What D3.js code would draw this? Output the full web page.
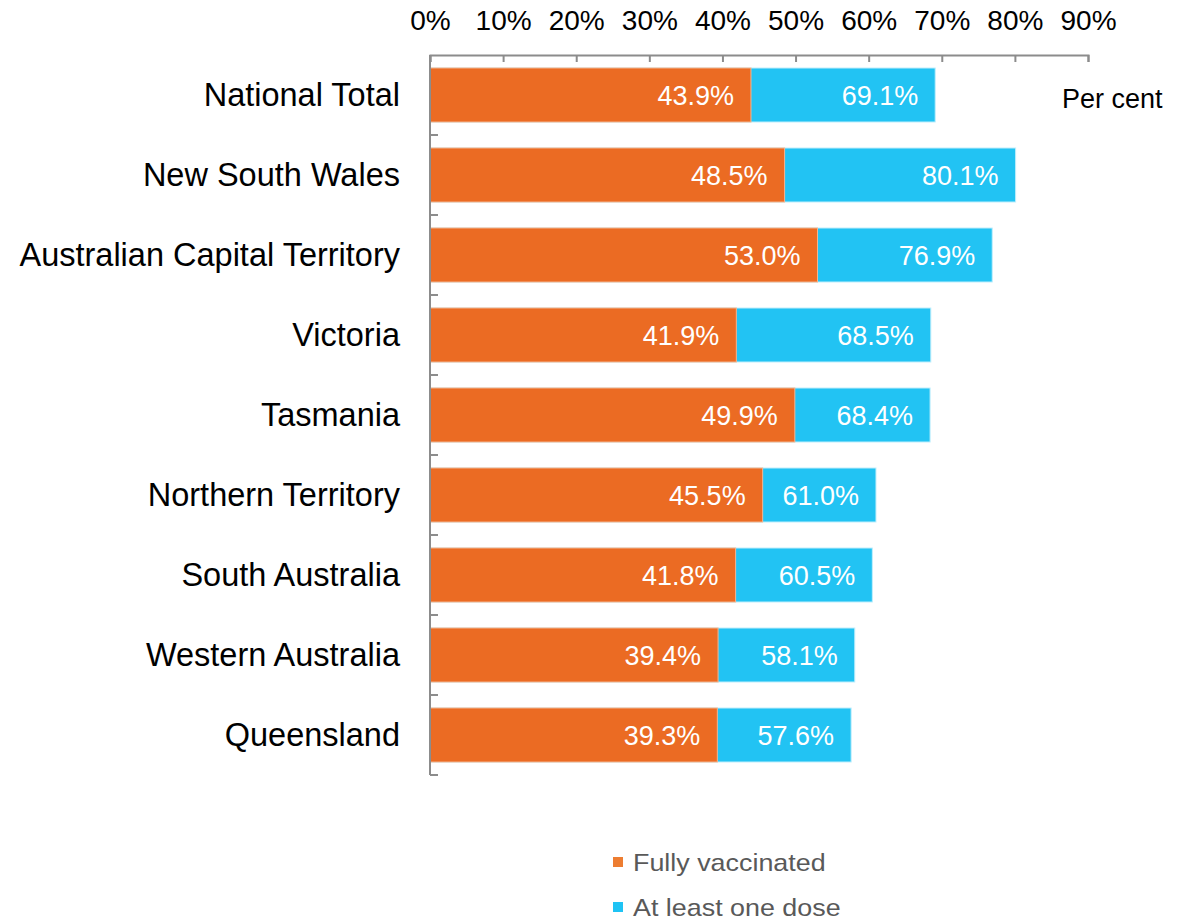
<!DOCTYPE html>
<html>
<head>
<meta charset="utf-8">
<script src="https://cdn.jsdelivr.net/npm/d3@7"></script>
<style>
  body { margin: 0; background: #fff; }
  text { font-family: "Liberation Sans", Arial, sans-serif; }
</style>
</head>
<body>
<div id="chart"></div>
<script>
(function(){
    'use strict';

    // data
    var regions = ['National Total', 'New South Wales', 'Australian Capital Territory', 'Victoria',
        'Tasmania', 'Northern Territory', 'South Australia', 'Western Australia', 'Queensland'];
    var fullyVaccinated = [43.9, 48.5, 53.0, 41.9, 49.9, 45.5, 41.8, 39.4, 39.3];
    var atLeastOneDose = [69.1, 80.1, 76.9, 68.5, 68.4, 61.0, 60.5, 58.1, 57.6];
    var xTicks = [0, 10, 20, 30, 40, 50, 60, 70, 80, 90];
    var seriesNames = ['Fully vaccinated', 'At least one dose'];

    var width = 1196, height = 923;
    var orange = '#EB6B23', blue = '#22C3F3', axisGrey = '#8c8c8c';

    var svg = d3.select('#chart').append('svg')
        .attr('width', width)
        .attr('height', height);

    var x = d3.scaleLinear().domain([0, 90]).range([430, 1088]);
    var y = d3.scaleBand().domain(regions).range([55, 775])
        .paddingInner(0.325).paddingOuter(0.1625);

    var rows = regions.map(function(r, i){
        return {name: r, full: fullyVaccinated[i], one: atLeastOneDose[i]};
    });

    // blue bars behind, orange in front, both from zero
    svg.selectAll('rect.one')
        .data(rows).enter()
        .append('rect')
        .attr('class', 'one')
        .attr('x', x(0))
        .attr('y', function(d){ return y(d.name); })
        .attr('width', function(d){ return x(d.one) - x(0); })
        .attr('height', y.bandwidth())
        .attr('fill', blue)
        .attr('stroke', '#bfeefc')
        .attr('stroke-width', 1);

    svg.selectAll('rect.full')
        .data(rows).enter()
        .append('rect')
        .attr('class', 'full')
        .attr('x', x(0))
        .attr('y', function(d){ return y(d.name); })
        .attr('width', function(d){ return x(d.full) - x(0); })
        .attr('height', y.bandwidth())
        .attr('fill', orange)
        .attr('stroke', '#f5b58f')
        .attr('stroke-width', 1);

    // value labels inside bar ends
    function addLabels(key){
        svg.selectAll('text.lbl-' + key)
            .data(rows).enter()
            .append('text')
            .attr('class', 'lbl-' + key)
            .attr('x', function(d){ return x(d[key]) - 17; })
            .attr('y', function(d){ return y(d.name) + y.bandwidth() / 2 + 10; })
            .attr('text-anchor', 'end')
            .attr('fill', '#fff')
            .style('font-size', '27px')
            .text(function(d){ return d[key].toFixed(1) + '%'; });
    }
    addLabels('full');
    addLabels('one');

    // top axis
    var topAxis = svg.append('g')
        .attr('transform', 'translate(0,55)')
        .call(d3.axisTop(x).tickValues(xTicks).tickSizeInner(-7).tickSizeOuter(-7)
            .tickFormat(function(d){ return d + '%'; }));
    topAxis.select('.domain').attr('stroke', axisGrey).attr('stroke-width', 2);
    topAxis.selectAll('.tick line').attr('stroke', axisGrey).attr('stroke-width', 2);
    topAxis.selectAll('.tick text')
        .attr('y', -25)
        .attr('dy', 0)
        .attr('fill', '#000')
        .style('font-size', '28px')
        .style('font-family', '"Liberation Sans", Arial, sans-serif');

    // left axis with boundary ticks
    var bounds = regions.map(function(r){ return y(r) - y.step() * y.paddingInner() / 2; });
    bounds.push(775);
    svg.append('line')
        .attr('x1', x(0)).attr('x2', x(0))
        .attr('y1', 55).attr('y2', 775)
        .attr('stroke', axisGrey).attr('stroke-width', 2);
    svg.selectAll('line.ytick')
        .data(bounds.slice(1)).enter()
        .append('line')
        .attr('class', 'ytick')
        .attr('x1', x(0)).attr('x2', x(0) + 8)
        .attr('y1', function(d){ return d; })
        .attr('y2', function(d){ return d; })
        .attr('stroke', axisGrey).attr('stroke-width', 2);

    // category labels
    svg.selectAll('text.cat')
        .data(rows).enter()
        .append('text')
        .attr('class', 'cat')
        .attr('x', 400)
        .attr('y', function(d){ return y(d.name) + y.bandwidth() / 2 + 11; })
        .attr('text-anchor', 'end')
        .attr('fill', '#000')
        .style('font-size', '32.5px')
        .text(function(d){ return d.name; });

    svg.append('text')
        .attr('x', 1062)
        .attr('y', 108)
        .attr('fill', '#000')
        .style('font-size', '27px')
        .text('Per cent');

    // legend
    var legend = svg.selectAll('g.legend')
        .data(seriesNames).enter()
        .append('g')
        .attr('class', 'legend')
        .attr('transform', function(d, i){ return 'translate(613,' + (871 + i * 45) + ')'; });
    legend.append('rect')
        .attr('x', 0).attr('y', -14)
        .attr('width', 10).attr('height', 10)
        .attr('fill', function(d, i){ return i === 0 ? '#ED7D31' : '#1FC3F4'; });
    legend.append('text')
        .attr('x', 0)
        .attr('y', 0)
        .attr('transform', 'translate(20,0) scale(1.12,1)')
        .attr('fill', '#595959')
        .style('font-size', '24px')
        .text(function(d){ return d; });
}());
</script>
</body>
</html>
